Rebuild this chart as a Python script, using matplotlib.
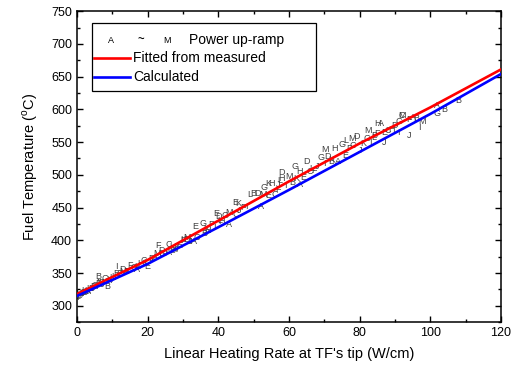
import numpy as np
import matplotlib
matplotlib.use("Agg")
import matplotlib.pyplot as plt
from matplotlib.lines import Line2D
from matplotlib.patches import Rectangle
from matplotlib.ticker import MultipleLocator

plt.rcParams['font.family'] = ['Liberation Sans', 'DejaVu Sans']
plt.rcParams['mathtext.fontset'] = 'custom'
plt.rcParams['mathtext.rm'] = 'Liberation Sans'

# fitted / calculated curves
curve_x = [0, 20, 40, 60, 80, 100, 120]
fitted_y = [318, 370, 430, 490, 548, 603, 661]
calc_y = [315, 364, 420, 477, 535, 593, 654]

# power up-ramp measurements, one list per ramp (letters A..M)
ramps = {
    "A": ([1, 3, 9, 17, 22, 26, 33, 43, 52, 63, 74, 86, 95, 102],
          [318, 322, 338, 356, 373, 381, 398, 424, 452, 485, 520, 578, 588, 606]),
    "B": ([0.5, 4, 6, 8.5, 14, 21, 27, 36, 50, 61, 72, 84, 96, 104, 108],
          [316, 326, 344, 330, 352, 372, 385, 410, 472, 488, 520, 560, 586, 600, 613]),
    "C": ([1.5, 5, 12, 19, 26, 34, 45, 56, 66, 78, 88, 92],
          [320, 331, 350, 369, 393, 404, 440, 470, 505, 545, 568, 590]),
    "D": ([2, 7, 13, 24, 31, 40, 51, 58, 65, 71, 79, 90],
          [321, 336, 356, 384, 402, 436, 472, 503, 521, 528, 558, 575]),
    "E": ([0, 4.5, 11, 20, 29, 33.5, 39.5, 44.7, 54, 64, 76, 87],
          [314, 330, 349, 360, 392, 421, 441, 457, 468, 496, 530, 565]),
    "F": ([1, 6, 15, 23, 30, 38, 47, 57, 67, 77, 85, 94],
          [317, 334, 362, 392, 400, 424, 450, 478, 506, 540, 563, 584]),
    "G": ([2.5, 8, 16, 24, 35.7, 42, 53, 61.7, 69, 75, 82, 91, 101.8],
          [322, 341, 358, 380, 426, 438, 480, 513, 527, 546, 556, 582, 594]),
    "H": ([3.5, 10, 18, 27, 37, 41, 55, 58, 63, 73, 85, 89],
          [327, 343, 365, 390, 415, 428, 487, 495, 505, 540, 578, 570]),
    "I": ([0, 5.5, 11, 21, 28, 39, 48, 59, 70, 83, 91, 97],
          [312, 329, 360, 370, 388, 420, 452, 484, 518, 550, 564, 572]),
    "J": ([1.5, 7, 14, 25, 32, 46, 57, 68, 80, 87, 94],
          [319, 333, 352, 380, 398, 446, 485, 512, 537, 550, 560]),
    "K": ([3, 9, 17, 27.5, 36.5, 45.5, 54, 62, 72, 81],
          [324, 340, 360, 386, 418, 456, 487, 495, 524, 548]),
    "L": ([2, 10.5, 19.5, 30, 40.5, 49, 57.5, 66.5, 76, 84],
          [323, 345, 366, 401, 430, 470, 492, 510, 553, 557]),
    "M": ([0.5, 6.5, 13, 22.5, 31, 43, 52.5, 60, 70.2, 77.8, 82.4, 92, 97.6],
          [318, 335, 352, 380, 405, 442, 470, 497, 539, 555, 567, 590, 582]),
}

fig = plt.figure(figsize=(5.17, 3.72), dpi=100)
ax = fig.add_axes([0.149, 0.134, 0.820, 0.836])

# letters as markers
for letra, (xs, ys) in ramps.items():
    for x, y in zip(xs, ys):
        ax.text(x, y, letra, fontsize=6.5, color='#404040', ha='center', va='center',
                clip_on=True, zorder=2)

ax.plot(curve_x, fitted_y, color='#ff0000', lw=1.9, zorder=3)
ax.plot(curve_x, calc_y, color='#0000ff', lw=1.9, zorder=4)

ax.set_xlim(0, 120)
ax.set_ylim(275, 750)
ax.xaxis.set_major_locator(MultipleLocator(20))
ax.xaxis.set_minor_locator(MultipleLocator(10))
ax.yaxis.set_major_locator(MultipleLocator(50))
ax.yaxis.set_minor_locator(MultipleLocator(25))
ax.set_yticks(np.arange(300, 751, 50))
ax.tick_params(which='both', direction='in', top=True, right=True, labelsize=9, width=1)
ax.tick_params(which='major', length=4.5)
ax.tick_params(which='minor', length=2.5)
for s in ax.spines.values():
    s.set_linewidth(1.1)

ax.set_xlabel("Linear Heating Rate at TF's tip (W/cm)", fontsize=10.5, labelpad=6)
ax.set_ylabel(r"Fuel Temperature ($^{\mathrm{o}}$C)", fontsize=10.5, labelpad=8)

# legend drawn by hand
ax.add_patch(Rectangle((0.035, 0.743), 0.529, 0.218, transform=ax.transAxes,
                       fill=False, edgecolor='black', lw=0.9, zorder=5))
ax.text(0.080, 0.907, "A", fontsize=6.5, ha='center', va='center', transform=ax.transAxes)
ax.text(0.151, 0.907, "~", fontsize=8, fontweight='bold', ha='center', va='center',
        transform=ax.transAxes)
ax.text(0.212, 0.907, "M", fontsize=6.5, ha='center', va='center', transform=ax.transAxes)
ax.text(0.265, 0.907, "Power up-ramp", fontsize=10, ha='left', va='center',
        transform=ax.transAxes)
ax.add_line(Line2D([0.040, 0.125], [0.849, 0.849], transform=ax.transAxes,
                   color='#ff0000', lw=1.9))
ax.text(0.132, 0.849, "Fitted from measured", fontsize=10, ha='left', va='center',
        transform=ax.transAxes)
ax.add_line(Line2D([0.040, 0.125], [0.788, 0.788], transform=ax.transAxes,
                   color='#0000ff', lw=1.9))
ax.text(0.132, 0.788, "Calculated", fontsize=10, ha='left', va='center',
        transform=ax.transAxes)

fig.savefig("out.png", dpi=100)
